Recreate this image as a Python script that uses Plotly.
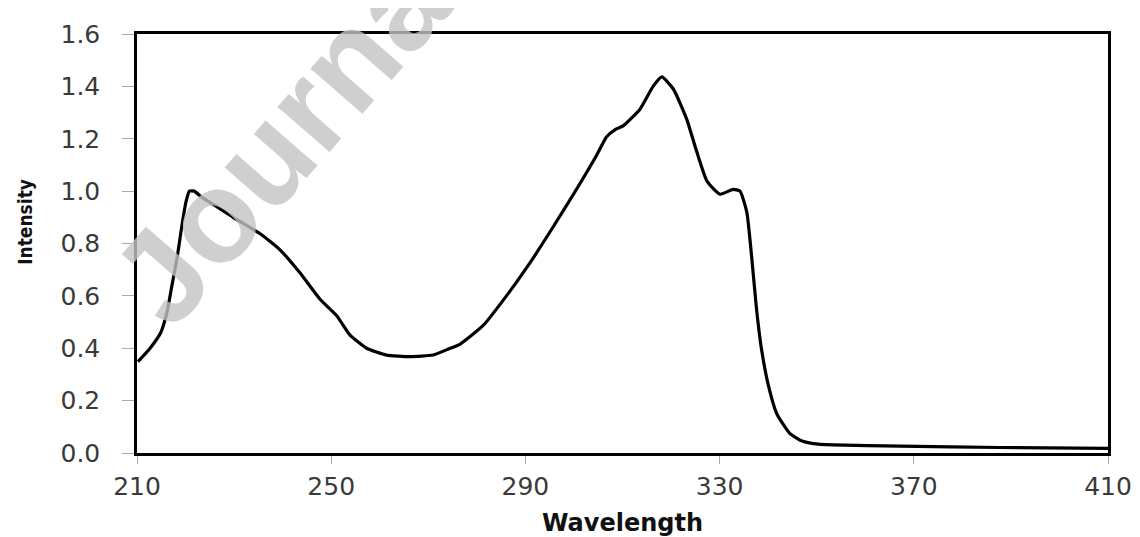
import plotly.graph_objects as go

wavelength = [210.2, 212.7, 214.9, 216.2, 217.2, 218.3, 219.3, 220.1, 220.8, 221.8,
              223.3, 226.5, 229.8, 235.3, 239.5, 243.6, 247.7, 251.1, 253.9, 257.3,
              261.4, 266.2, 271.0, 274.5, 276.5, 281.3, 286.1, 290.9, 295.7, 299.9,
              304.7, 306.7, 308.5, 310.2, 313.6, 316.3, 318.1, 320.5, 323.2, 325.3,
              327.4, 330.1, 332.8, 334.2, 335.6, 336.6, 337.6, 338.6, 340.0, 341.8,
              344.5, 346.6, 349.3, 353.4, 367.2, 387.8, 410.0]
intensity = [0.349, 0.40, 0.46, 0.54, 0.64, 0.75, 0.875, 0.96, 1.0, 1.0,
             0.977, 0.94, 0.90, 0.838, 0.775, 0.687, 0.587, 0.525, 0.45, 0.40,
             0.374, 0.368, 0.374, 0.40, 0.415, 0.487, 0.60, 0.725, 0.863, 0.988,
             1.138, 1.207, 1.235, 1.25, 1.313, 1.40, 1.436, 1.389, 1.276, 1.15,
             1.038, 0.988, 1.007, 1.0, 0.92, 0.75, 0.55, 0.40, 0.262, 0.149,
             0.074, 0.049, 0.036, 0.031, 0.026, 0.021, 0.018]

x_ticks = [210, 250, 290, 330, 370, 410]
y_ticks = [0.0, 0.2, 0.4, 0.6, 0.8, 1.0, 1.2, 1.4, 1.6]
y_tick_text = ["%.1f" % v for v in y_ticks]

fig = go.Figure()
fig.add_trace(go.Scatter(x=wavelength, y=intensity, mode="lines",
                         line=dict(color="black", width=3.2, shape="spline", smoothing=0.5),
                         showlegend=False, hoverinfo="skip"))

tick_font = dict(family="DejaVu Sans, Verdana, sans-serif", size=25, color="#3a3a3a")

fig.update_layout(
    width=1140, height=537,
    margin=dict(l=129, r=40, t=19, b=92),
    paper_bgcolor="white", plot_bgcolor="white",
    xaxis=dict(range=[210, 410], tickvals=x_ticks, ticktext=[str(v) for v in x_ticks],
               showgrid=False, zeroline=False, showline=True, linecolor="black", linewidth=2.5,
               mirror=True, ticks="outside", ticklen=8, tickcolor="#aaaaaa", tickwidth=1,
               tickfont=tick_font, ticklabelstandoff=1),
    yaxis=dict(range=[0, 1.6], tickvals=y_ticks, ticktext=y_tick_text,
               showgrid=False, zeroline=False, showline=True, linecolor="black", linewidth=2.5,
               mirror=True, ticks="outside", ticklen=12, tickcolor="#aaaaaa", tickwidth=1,
               tickfont=tick_font, ticklabelstandoff=17),
    annotations=[
        dict(text="Wavelength", xref="paper", yref="paper", x=0.5, y=0, yshift=-70,
             xanchor="center", yanchor="middle", showarrow=False,
             font=dict(family="DejaVu Sans, Verdana, sans-serif", size=24, color="#111111", weight="bold")),
        dict(text="Intensity", xref="paper", yref="paper", x=0, y=(453 - 218) / 426, xshift=-112,
             xanchor="center", yanchor="middle", showarrow=False, textangle=-90,
             font=dict(family="DejaVu Sans Condensed, Liberation Sans Narrow, DejaVu Sans, sans-serif",
                       size=19, color="#111111", weight="bold")),
        dict(text="Journal", xref="paper", yref="paper", x=0.16, y=0.78,
             xanchor="center", yanchor="middle", showarrow=False, textangle=-49,
             font=dict(family="Liberation Sans, Arial, sans-serif", size=130,
                       color="rgba(195,195,195,0.8)", weight="bold")),
    ],
)

fig.write_html("out.html")
